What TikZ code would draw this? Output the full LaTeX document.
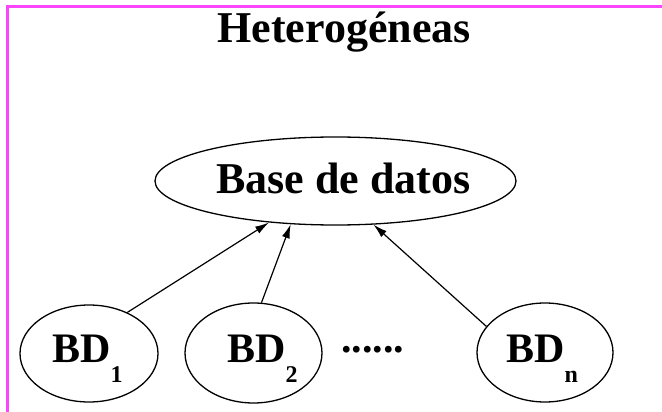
\documentclass[tikz,border=0pt]{standalone}
\usepackage{fontspec}
\setmainfont{Liberation Serif}
\usetikzlibrary{shapes.geometric,arrows.meta}
\definecolor{framemagenta}{RGB}{250,70,250}
\newcommand{\bdsub}[1]{\raisebox{-20pt}{\fontsize{24}{24}\selectfont #1}}
\begin{document}
\begin{tikzpicture}[x=1pt,y=-1pt,
  oval/.style={draw,ellipse,line width=1.3pt,inner sep=0pt},
  lbl/.style={font=\bfseries\fontsize{42}{42}\selectfont,inner sep=0pt},
  link/.style={line width=1.2pt,-{Latex[length=14pt,width=8pt]}}]
  \useasboundingbox (0,0) rectangle (662,412);
  % frame edges
  \draw[framemagenta,line width=2.5pt] (7.5,412) -- (7.5,6.5) -- (662,6.5);
  % title
  \node[lbl,font=\bfseries\fontsize{44}{44}\selectfont,anchor=base] (title) at (344,43) {Heterogéneas};
  % central database
  \node[oval,minimum width=361pt,minimum height=88pt] (db) at (335.5,181) {};
  \node[lbl,font=\bfseries\fontsize{44}{44}\selectfont,anchor=base] (dbl) at (343.5,193) {Base de datos};
  % component databases
  \node[oval,minimum width=138pt,minimum height=97pt] (bd1) at (89,353.5) {};
  \node[oval,minimum width=137pt,minimum height=100pt] (bd2) at (253.5,353) {};
  \node[oval,minimum width=136pt,minimum height=99pt] (bdn) at (545,352.5) {};
  \node[lbl,anchor=base west] (l1) at (52,362) {BD\bdsub{1}};
  \node[lbl,anchor=base west] (l2) at (227,362) {BD\bdsub{2}};
  \node[lbl,anchor=base west] (ln) at (506,362) {BD\bdsub{n}};
  \node[lbl,anchor=base west] (dots) at (341,352) {......};
  % links
  \draw[link] (bd1.47) -- (db.212);
  \draw[link] (bd2.81) -- (db.224.5);
  \draw[link] (bdn.156) -- (db.311);
\end{tikzpicture}
\end{document}
